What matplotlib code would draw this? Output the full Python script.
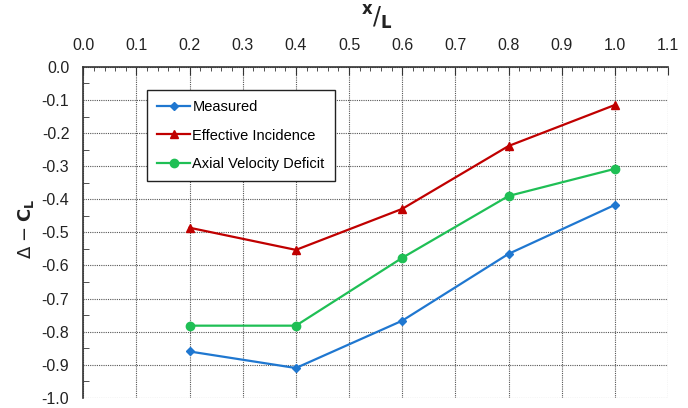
import matplotlib
matplotlib.use("Agg")
import matplotlib.pyplot as plt
from matplotlib.ticker import MultipleLocator

plt.rcParams["font.family"] = ["Liberation Sans", "DejaVu Sans"]

x_over_l = [0.2, 0.4, 0.6, 0.8, 1.0]
measured = [-0.86, -0.91, -0.767, -0.565, -0.417]
effective_incidence = [-0.486, -0.553, -0.429, -0.239, -0.115]
axial_velocity_deficit = [-0.782, -0.782, -0.577, -0.39, -0.308]

fig = plt.figure(figsize=(6.88, 4.08), dpi=100)
ax = fig.add_axes([0.121, 0.025, 0.850, 0.811])

ax.plot(x_over_l, measured, color="#1f77d0", marker="D", markersize=4.5,
        linewidth=1.6, label="Measured")
ax.plot(x_over_l, effective_incidence, color="#c00000", marker="^", markersize=6,
        linewidth=1.6, label="Effective Incidence")
ax.plot(x_over_l, axial_velocity_deficit, color="#1fbf55", marker="o", markersize=6,
        linewidth=1.6, label="Axial Velocity Deficit")

ax.set_xlim(0, 1.1)
ax.set_ylim(-1.0, 0.0)
ax.xaxis.set_major_locator(MultipleLocator(0.1))
ax.xaxis.set_minor_locator(MultipleLocator(0.02))
ax.yaxis.set_major_locator(MultipleLocator(0.1))
ax.yaxis.set_minor_locator(MultipleLocator(0.05))
ax.xaxis.set_major_formatter(lambda v, p: f"{v:.1f}")
ax.yaxis.set_major_formatter(lambda v, p: f"{v:.1f}".replace("-0.0", "0.0"))

ax.xaxis.tick_top()
ax.tick_params(axis="x", which="major", direction="in", length=6, labelsize=11.5, pad=10,
               colors="#333333", labelcolor="#222222")
ax.tick_params(axis="x", which="minor", direction="in", length=3, colors="#333333")
ax.tick_params(axis="y", which="major", direction="in", length=0, labelsize=11.5, pad=10,
               labelcolor="#222222")
ax.tick_params(axis="y", which="minor", direction="in", length=4, colors="#333333")

ax.grid(True, which="major", color="#555555", linestyle=(0, (1, 1)), linewidth=0.8)
for side in ["bottom", "right"]:
    ax.spines[side].set_visible(False)
for side in ["top", "left"]:
    ax.spines[side].set_color("#333333")
    ax.spines[side].set_linewidth(1.2)

fig.text(0.548, 0.955, r"$^{\mathbf{x}}/_{\mathbf{L}}$", ha="center", va="center",
         fontsize=17, color="#222222")
fig.text(0.038, 0.44, r"$\Delta$ $-$ $\mathbf{C_L}$", ha="center", va="center",
         rotation=90, fontsize=13, color="#222222")

leg = ax.legend(loc="upper left", bbox_to_anchor=(0.097, 0.953), fontsize=10.5,
                frameon=True, fancybox=False, edgecolor="#222222", framealpha=1,
                borderpad=0.7, labelspacing=1.0, handlelength=2.2, handletextpad=0.2)
leg.get_frame().set_linewidth(1.0)

fig.savefig("out.png", dpi=100)
